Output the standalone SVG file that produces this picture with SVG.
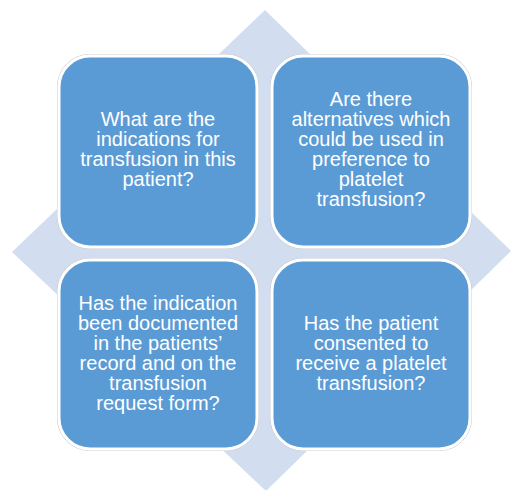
<svg xmlns="http://www.w3.org/2000/svg" width="511" height="490" viewBox="0 0 511 490">
<style>
.box{fill:#5B9BD5;stroke:#FFFFFF;stroke-width:3}
.shadow{fill:none;stroke:#C8CCD2;stroke-width:1}
.t{font-family:"Liberation Sans",Arial,sans-serif;font-size:20px;fill:#FFFFFF;text-anchor:middle}
</style>
<rect width="511" height="490" fill="#FFFFFF"/>
<g id="diamond">
<polygon points="265,10 511,251 266,491 12,252" fill="#D2DEEF"/>
</g>
<g id="connectors"></g>
<g id="node-tl">
<rect x="57.5" y="54.5" width="201" height="194" rx="32" class="shadow"/>
<rect x="59" y="56" width="198" height="191" rx="31" class="box"/>
<text class="t"><tspan x="158" y="126">What are the</tspan><tspan x="158" y="146">indications for</tspan><tspan x="158" y="166">transfusion in this</tspan><tspan x="158" y="186">patient?</tspan></text>
</g>
<g id="node-tr">
<rect x="270.5" y="54.5" width="201" height="194" rx="32" class="shadow"/>
<rect x="272" y="56" width="198" height="191" rx="31" class="box"/>
<text class="t"><tspan x="371" y="106">Are there</tspan><tspan x="371" y="126">alternatives which</tspan><tspan x="371" y="146">could be used in</tspan><tspan x="371" y="166">preference to</tspan><tspan x="371" y="186">platelet</tspan><tspan x="371" y="206">transfusion?</tspan></text>
</g>
<g id="node-bl">
<rect x="57.5" y="258.5" width="201" height="192" rx="32" class="shadow"/>
<rect x="59" y="260" width="198" height="189" rx="31" class="box"/>
<text class="t"><tspan x="158" y="310">Has the indication</tspan><tspan x="158" y="330">been documented</tspan><tspan x="158" y="350">in the patients’</tspan><tspan x="158" y="370">record and on the</tspan><tspan x="158" y="390">transfusion</tspan><tspan x="158" y="410">request form?</tspan></text>
</g>
<g id="node-br">
<rect x="270.5" y="258.5" width="201" height="192" rx="32" class="shadow"/>
<rect x="272" y="260" width="198" height="189" rx="31" class="box"/>
<text class="t"><tspan x="371" y="330">Has the patient</tspan><tspan x="371" y="350">consented to</tspan><tspan x="371" y="370">receive a platelet</tspan><tspan x="371" y="390">transfusion?</tspan></text>
</g>
</svg>
